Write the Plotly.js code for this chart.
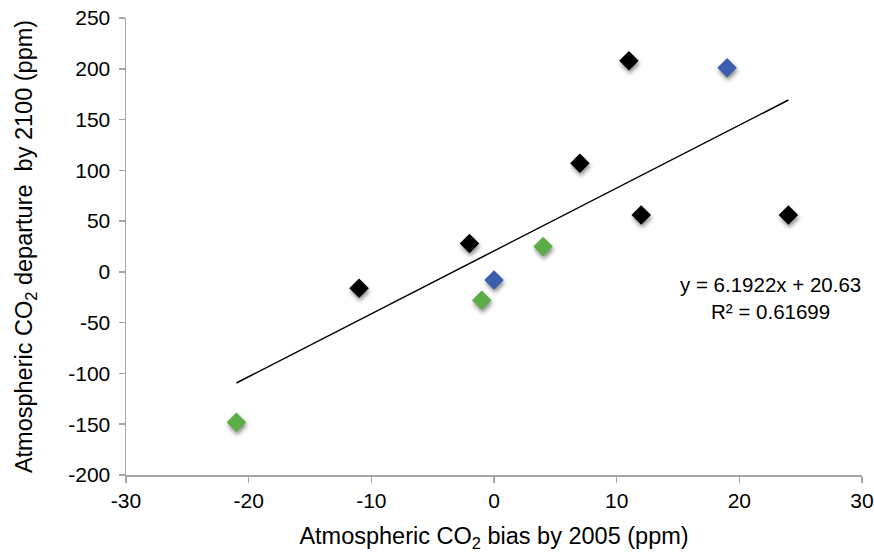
<!DOCTYPE html>
<html>
<head>
<meta charset="utf-8">
<script src="https://cdn.plot.ly/plotly-3.0.1.min.js"></script>
<style>
html,body{margin:0;padding:0;background:#fff;}
#chart{width:874px;height:552px;}
#chart .scatterlayer .point{filter: drop-shadow(1px 3px 2px rgba(0,0,0,0.45));}
</style>
</head>
<body>
<div id="chart"></div>
<script>
// Data
const blackX = [-11, -2, 7, 11, 12, 24];
const blackY = [-16, 28, 107, 208, 56, 56];
const blueX = [0, 19];
const blueY = [-8, 201];
const greenX = [-21, -1, 4];
const greenY = [-148, -28, 25];
const trendSlope = 6.1922;
const trendIntercept = 20.63;
const trendLabel = "y = 6.1922x + 20.63<br>R² = 0.61699";
const xTicks = [-30, -20, -10, 0, 10, 20, 30];
const xTickText = ["-30", "-20", "-10", "0", "10", "20", "30"];
const yTicks = [-200, -150, -100, -50, 0, 50, 100, 150, 200, 250];
const yTickText = ["-200", "-150", "-100", "-50", "0", "50", "100", "150", "200", "250"];

const allX = blackX.concat(blueX, greenX);
const xMin = Math.min(...allX), xMax = Math.max(...allX);
const trendX = [xMin, xMax];
const trendY = trendX.map(x => trendSlope * x + trendIntercept);

const mk = (c) => ({symbol: 'diamond', size: 15, color: c, line: {width: 0}});
const traces = [
  {x: trendX, y: trendY, mode: 'lines', line: {color: '#000', width: 1.5}, hoverinfo: 'skip'},
  {x: blackX, y: blackY, mode: 'markers', marker: mk('#000000')},
  {x: blueX, y: blueY, mode: 'markers', marker: mk('#3c5cad')},
  {x: greenX, y: greenY, mode: 'markers', marker: mk('#5bae46')}
];

const fam = 'Liberation Sans, Arial, sans-serif';
const layout = {
  width: 874, height: 552,
  margin: {l: 126, r: 12, t: 18, b: 77},
  showlegend: false,
  paper_bgcolor: '#fff', plot_bgcolor: '#fff',
  font: {family: fam, color: '#000'},
  xaxis: {
    range: [-30, 30], tickvals: xTicks, ticktext: xTickText,
    showgrid: false, zeroline: false, showline: true, linecolor: '#a6a6a6', linewidth: 1.5,
    ticks: 'outside', ticklen: 6, tickcolor: '#a6a6a6', tickwidth: 1.5,
    tickfont: {family: fam, size: 21, color: '#000'},
    title: {text: 'Atmospheric CO<sub>2</sub> bias by 2005 (ppm)', font: {family: fam, size: 23.5, color: '#000'}, standoff: 24}
  },
  yaxis: {
    range: [-200, 250], tickvals: yTicks, ticktext: yTickText,
    showgrid: false, zeroline: false, showline: true, linecolor: '#a6a6a6', linewidth: 1.5,
    ticks: 'outside', ticklen: 6, tickcolor: '#a6a6a6', tickwidth: 1.5, ticklabelstandoff: 4,
    tickfont: {family: fam, size: 21, color: '#000'},
    title: {text: 'Atmospheric CO<sub>2</sub> departure &nbsp;by 2100 (ppm)', font: {family: fam, size: 23.5, color: '#000'}, standoff: 29}
  },
  annotations: [{
    x: 22.5, y: -26, xref: 'x', yref: 'y', text: trendLabel, showarrow: false,
    align: 'center', font: {family: fam, size: 20.5, color: '#000'}
  }]
};
Plotly.newPlot('chart', traces, layout, {displayModeBar: false, staticPlot: true});
</script>
</body>
</html>
